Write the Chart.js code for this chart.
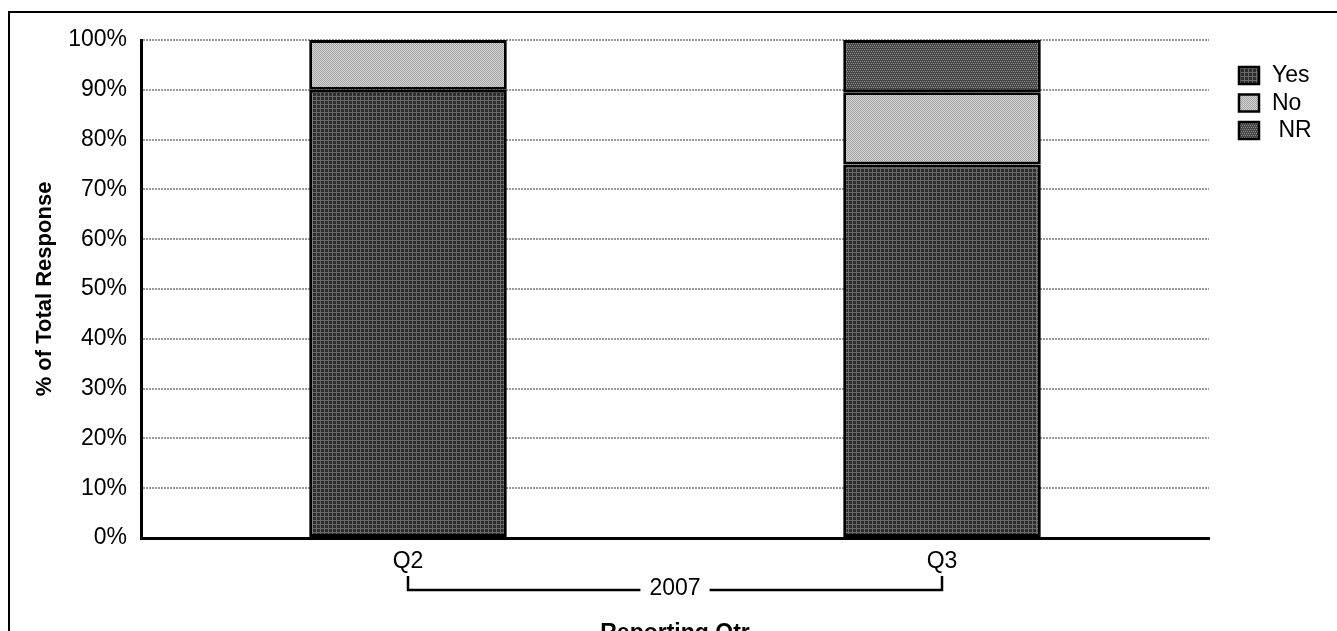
<!DOCTYPE html>
<html>
<head>
<meta charset="utf-8">
<script src="https://cdn.jsdelivr.net/npm/chart.js@4"></script>
<style>
  html, body { margin: 0; padding: 0; background: #fff; overflow: hidden; }
  #wrap { position: relative; width: 1337px; height: 660px; }
</style>
</head>
<body>
<div id="wrap"><canvas id="myChart"></canvas></div>
<script>
// Values
const quarters = ['Q2', 'Q3'];
const yearGroup = '2007';
const seriesNames = ['Yes', 'No', ' NR'];
const yesValues = [90, 75];
const noValues = [10, 14.5];
const nrValues = [0, 10.5];

const FONT = '"Liberation Sans", Arial, sans-serif';
Chart.defaults.font.family = FONT;
Chart.defaults.font.size = 23;
Chart.defaults.color = '#000';

// small repeating tiles, look of the old hatched fills
function makePattern(size, base, light, cells) {
    const c = document.createElement('canvas');
    c.width = size;
    c.height = size;
    const g = c.getContext('2d');
    g.fillStyle = base;
    g.fillRect(0, 0, size, size);
    g.fillStyle = light;
    cells.forEach(p => g.fillRect(p[0], p[1], 1, 1));
    return g.createPattern(c, 'repeat');
}
const fillYes = makePattern(4, '#2c2c2c', '#6a6a6a', [[0,0],[1,0],[2,0],[3,0],[0,1],[0,2],[0,3]]);
const fillNo = makePattern(2, '#a2a2a2', '#d6d6d6', [[1,0],[0,1]]);
const fillNR = makePattern(4, '#474747', '#8a8a8a', [[0,1],[2,1],[1,3],[3,3]]);

// frame round the whole picture (runs off right and bottom)
const frame = {
    id: 'frame',
    beforeDraw(chart) {
        const ctx = chart.ctx;
        ctx.save();
        ctx.strokeStyle = '#000';
        ctx.lineWidth = 2;
        ctx.beginPath();
        ctx.moveTo(9, chart.height + 5);
        ctx.lineTo(9, 12);
        ctx.lineTo(chart.width + 5, 12);
        ctx.stroke();
        ctx.restore();
    }
};

// legend on the right
const sideLegend = {
    id: 'sideLegend',
    afterDraw(chart) {
        const ctx = chart.ctx;
        const x = chart.chartArea.right + 30;
        let y = chart.chartArea.top + 35;
        ctx.save();
        ctx.font = '23px ' + FONT;
        ctx.textBaseline = 'middle';
        chart.data.datasets.forEach(ds => {
            ctx.fillStyle = ds.backgroundColor;
            ctx.fillRect(x, y - 8, 20, 17);
            ctx.lineWidth = 2.5;
            ctx.strokeStyle = '#000';
            ctx.strokeRect(x, y - 8, 20, 17);
            ctx.fillStyle = '#000';
            ctx.fillText(ds.label, x + 33, y + 1);
            y += 27.5;
        });
        ctx.restore();
    }
};

// bracket under the quarters with the year
const groupBracket = {
    id: 'groupBracket',
    afterDraw(chart) {
        const ctx = chart.ctx;
        const xs = chart.scales.x;
        const x0 = xs.getPixelForValue(0);
        const x1 = xs.getPixelForValue(quarters.length - 1);
        const yTop = xs.top + 38;
        const yLine = xs.top + 52;
        const mid = (x0 + x1) / 2;
        ctx.save();
        ctx.font = '23px ' + FONT;
        const half = ctx.measureText(yearGroup).width / 2 + 9;
        ctx.strokeStyle = '#000';
        ctx.lineWidth = 2.5;
        ctx.beginPath();
        ctx.moveTo(x0, yTop);
        ctx.lineTo(x0, yLine);
        ctx.lineTo(mid - half, yLine);
        ctx.moveTo(mid + half, yLine);
        ctx.lineTo(x1, yLine);
        ctx.lineTo(x1, yTop);
        ctx.stroke();
        ctx.fillStyle = '#000';
        ctx.textAlign = 'center';
        ctx.textBaseline = 'middle';
        ctx.fillText(yearGroup, mid, yLine - 1);
        ctx.restore();
    }
};

const ctx = document.getElementById('myChart');

const barStyle = {
    borderColor: '#000',
    borderWidth: 3,
    borderSkipped: false,
    barPercentage: 0.37,
    categoryPercentage: 1
};

const myChart = new Chart(ctx, {
    type: 'bar',
    data: {
        labels: quarters,
        datasets: [
            Object.assign({ label: seriesNames[0], data: yesValues, backgroundColor: fillYes }, barStyle),
            Object.assign({ label: seriesNames[1], data: noValues, backgroundColor: fillNo }, barStyle),
            Object.assign({ label: seriesNames[2], data: nrValues, backgroundColor: fillNR }, barStyle)
        ]
    },
    options: {
        responsive: true,
        maintainAspectRatio: false,
        animation: false,
        layout: { padding: { left: 32, right: 128, top: 40, bottom: 0 } },
        plugins: {
            legend: { display: false },
            tooltip: { enabled: false }
        },
        scales: {
            x: {
                stacked: true,
                grid: { display: false, drawTicks: false },
                border: { color: '#000', width: 3 },
                ticks: { padding: 10, maxRotation: 0 },
                title: {
                    display: true,
                    text: 'Reporting Qtr',
                    font: { size: 23, weight: 'bold' },
                    padding: { top: 0, bottom: 13 }
                },
                afterFit(s) { s.height = 122; }
            },
            y: {
                stacked: true,
                min: 0,
                max: 100,
                ticks: {
                    stepSize: 10,
                    padding: 14,
                    callback: v => v + '%'
                },
                grid: {
                    drawTicks: false,
                    lineWidth: 2,
                    color: c => (c.tick && c.tick.value === 0) ? 'rgba(0,0,0,0)' : '#9a9a9a'
                },
                border: { color: '#000', width: 3, dash: [2, 1] },
                title: {
                    display: true,
                    text: '% of Total Response',
                    font: { size: 22, weight: 'bold' },
                    padding: { top: 0, bottom: 0 }
                },
                afterFit(s) { s.width = 109; }
            }
        }
    },
    plugins: [frame, sideLegend, groupBracket]
});
</script>
</body>
</html>
